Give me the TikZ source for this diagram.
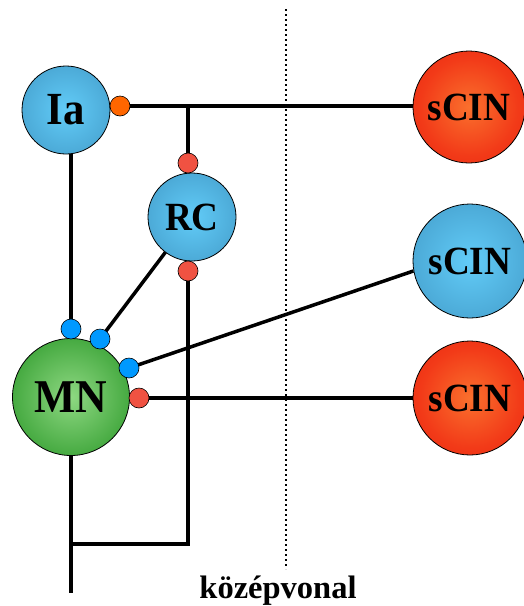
\documentclass[tikz,border=0pt]{standalone}
\usepackage{fontspec}
\setmainfont{Liberation Serif}
\usetikzlibrary{calc,backgrounds}

\definecolor{cellblueIn}{RGB}{98,204,248}
\definecolor{cellblueMid}{RGB}{76,170,215}
\definecolor{cellblueOut}{RGB}{50,130,175}
\definecolor{cellredIn}{RGB}{250,112,45}
\definecolor{cellredMid}{RGB}{242,58,24}
\definecolor{cellredOut}{RGB}{222,24,8}
\definecolor{cellgreenIn}{RGB}{142,216,130}
\definecolor{cellgreenMid}{RGB}{70,170,65}
\definecolor{cellgreenOut}{RGB}{22,136,22}
\definecolor{synorange}{RGB}{255,102,0}
\definecolor{synred}{RGB}{240,82,66}
\definecolor{synblue}{RGB}{0,153,255}

% soft radial gradients for the cell bodies
\pgfdeclareradialshading{blueball}{\pgfpoint{0bp}{0bp}}{color(0bp)=(cellblueIn); color(25bp)=(cellblueMid); color(50bp)=(cellblueOut); color(100bp)=(cellblueOut)}
\pgfdeclareradialshading{redball}{\pgfpoint{0bp}{0bp}}{color(0bp)=(cellredIn); color(22bp)=(cellredMid); color(50bp)=(cellredOut); color(100bp)=(cellredOut)}
\pgfdeclareradialshading{greenball}{\pgfpoint{0bp}{0bp}}{color(0bp)=(cellgreenIn); color(25bp)=(cellgreenMid); color(50bp)=(cellgreenOut); color(100bp)=(cellgreenOut)}

\newcommand{\cellname}[2]{\fontsize{#1}{#1}\selectfont\bfseries\scalebox{0.93}[1]{#2}}

\tikzset{
  cell/.style={circle, draw=black, line width=0.8pt, inner sep=0pt},
  bluecell/.style={cell, shading=blueball},
  redcell/.style={cell, shading=redball},
  greencell/.style={cell, shading=greenball},
  syn/.style={circle, draw=black, line width=0.6pt, inner sep=0pt, minimum size=20pt},
  fiber/.style={line width=3.5pt, black},
  midline/.style={line width=1.6pt, black, dash pattern=on 1.6pt off 3.4pt},
}

\begin{document}
\begin{tikzpicture}[x=1pt, y=-1pt]
\useasboundingbox (0,0) rectangle (523,606);

% midline
\coordinate (mtop) at (286,9);
\coordinate (mbot) at (286,569);
\draw[midline] (mtop) -- (mbot);
\node[anchor=base, font=\bfseries\fontsize{32.5}{32.5}\selectfont] (mlabel) at (278,598) {középvonal};

% cells
\node[bluecell, minimum size=88pt] (ia) at (66,110) {\cellname{46}{Ia}};
\node[bluecell, minimum size=88pt] (rc) at (192,217) {\cellname{40}{RC}};
\node[greencell, minimum size=117pt] (mn) at (71,397) {\cellname{47}{MN}};
\node[redcell, minimum size=112pt] (s1) at (469,107) {\cellname{40}{sCIN}};
\node[bluecell, minimum size=114pt] (s2) at (470,261) {\cellname{40}{sCIN}};
\node[redcell, minimum size=114pt] (s3) at (470,398) {\cellname{40}{sCIN}};

% synaptic endings
\node[syn, fill=synorange] (oia) at (120,106) {};
\node[syn, fill=synred] (rtop) at (188,163) {};
\node[syn, fill=synred] (rbot) at (188,271) {};
\node[syn, fill=synblue] (b1) at (71,329) {};
\node[syn, fill=synblue] (b2) at (100,339) {};
\node[syn, fill=synblue] (b3) at (129,368) {};
\node[syn, fill=synred] (rmn) at (139,398) {};

% junction points of the fibres
\coordinate (j1) at (rtop |- oia);
\coordinate (j2) at (188,544);
\coordinate (j3) at (71,544);
\coordinate (axend) at (71,593);

% fibres, kept behind the cells
\begin{scope}[on background layer]
\draw[fiber] (oia.center) -- (oia.center -| s1.center);
\draw[fiber] (j1) -- (rtop.center);
\draw[fiber] (ia.center -| b1) -- (b1.center);
\draw[fiber] (rc.center) -- (b2.center);
\draw[fiber] (b3.center) -- (s2.190);
\draw[fiber] (rmn.center) -- (rmn.center -| s3.center);
\draw[fiber] (rbot.center) -- (j2) -- (j3);
\draw[fiber] (mn.center) -- (axend);
\end{scope}
\end{tikzpicture}
\end{document}
